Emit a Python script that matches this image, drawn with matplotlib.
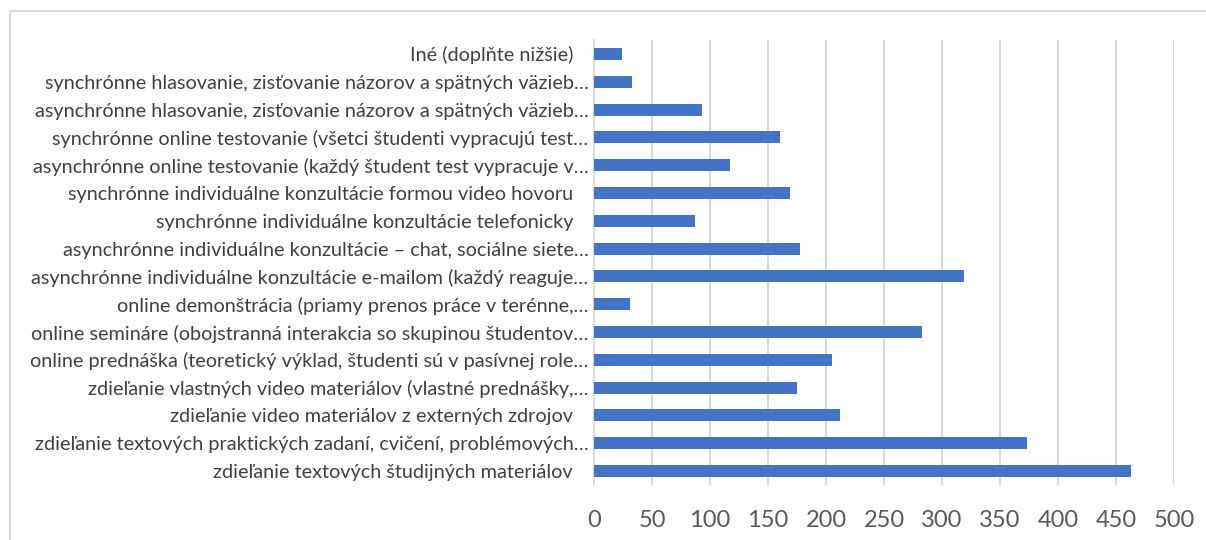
import matplotlib.pyplot as plt
from matplotlib.patches import Rectangle

# categories listed bottom -> top
labels = [
    "zdieľanie textových študijných materiálov   ",
    "zdieľanie textových praktických zadaní, cvičení, problémových…",
    "zdieľanie video materiálov z externých zdrojov   ",
    "zdieľanie vlastných video materiálov (vlastné prednášky,…",
    "online prednáška (teoretický výklad, študenti sú v pasívnej role…",
    "online semináre (obojstranná interakcia so skupinou študentov…",
    "online demonštrácia (priamy prenos práce v terénne,…",
    "asynchrónne individuálne konzultácie e-mailom (každý reaguje…",
    "asynchrónne individuálne konzultácie – chat, sociálne siete…",
    "synchrónne individuálne konzultácie telefonicky   ",
    "synchrónne individuálne konzultácie formou video hovoru   ",
    "asynchrónne online testovanie (každý študent test vypracuje v…",
    "synchrónne online testovanie (všetci študenti vypracujú test…",
    "asynchrónne hlasovanie, zisťovanie názorov a spätných väzieb…",
    "synchrónne hlasovanie, zisťovanie názorov a spätných väzieb…",
    "Iné (doplňte nižšie)   ",
]
values = [463, 373, 212, 175, 205, 283, 31, 319, 178, 87, 169, 117, 160, 93, 33, 24]
xticks = [0, 50, 100, 150, 200, 250, 300, 350, 400, 450, 500]

plt.rcParams['font.family'] = ['Lato', 'DejaVu Sans']

fig = plt.figure(figsize=(12.06, 5.4), dpi=100)
ax = fig.add_axes([594/1206, 1-485/540, 580/1206, 445/540])

pos = range(len(values))
ax.barh(pos, values, height=0.43, color='#4472C4', zorder=3)

ax.set_xlim(0, 500)
ax.set_ylim(-0.5, len(values)-0.5)
ax.set_xticks(xticks)
ax.set_xticklabels([str(t) for t in xticks], fontsize=17, color='#595959')
ax.set_yticks(list(pos))
ax.set_yticklabels(labels, fontsize=14.3, color='#404040')
ax.tick_params(axis='both', length=0)
ax.tick_params(axis='x', pad=18)
ax.tick_params(axis='y', pad=4)

ax.grid(axis='x', color='#D9D9D9', linewidth=1.5, zorder=0)
for s in ['top', 'right', 'bottom']:
    ax.spines[s].set_visible(False)
ax.spines['left'].set_color('#D9D9D9')
ax.spines['left'].set_linewidth(1.5)

# chart area border (extends past image right/bottom)
fig.patches.append(Rectangle((9.5/1206, -0.05), 1.2, 1-11/540+0.05,
                             transform=fig.transFigure, fill=False,
                             edgecolor='#D9D9D9', linewidth=1.5))

fig.savefig('out.png', dpi=100)
